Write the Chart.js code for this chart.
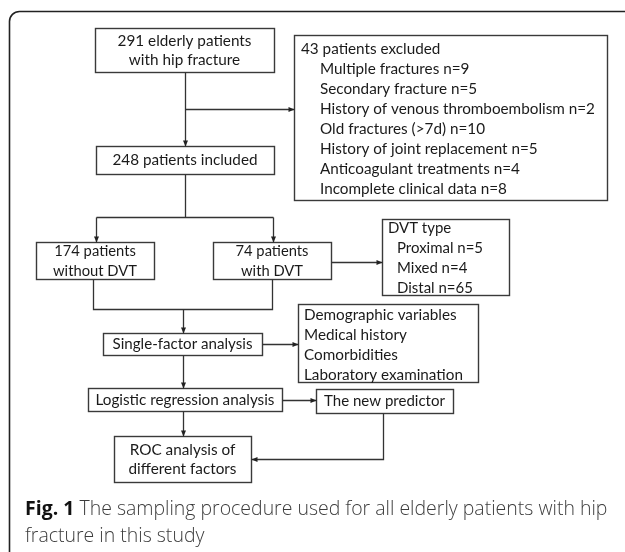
<!DOCTYPE html>
<html>
<head>
<meta charset="utf-8">
<script src="https://cdn.jsdelivr.net/npm/chart.js@4.4.0/dist/chart.umd.min.js"></script>
<style>
  html, body { margin: 0; padding: 0; background: #fff; }
  #wrap { width: 625px; height: 552px; }
</style>
</head>
<body>
<div id="wrap"><canvas id="flow" width="625" height="552"></canvas></div>
<script>
// ---- text / counts of the flow diagram ----
const sourceLines = ['291 elderly patients', 'with hip fracture'];
const includedLines = ['248 patients included'];
const excludedTitle = '43 patients excluded';
const exclusionReasons = ['Multiple fractures', 'Secondary fracture', 'History of venous thromboembolism',
    'Old fractures (>7d)', 'History of joint replacement', 'Anticoagulant treatments', 'Incomplete clinical data'];
const exclusionCounts = [9, 5, 2, 10, 5, 4, 8];
const groupCounts = [174, 74];
const groupLabels = ['without DVT', 'with DVT'];
const dvtTitle = 'DVT type';
const dvtTypes = ['Proximal', 'Mixed', 'Distal'];
const dvtCounts = [5, 4, 65];
const factorVars = ['Demographic variables', 'Medical history', 'Comorbidities', 'Laboratory examination'];
const stepLabels = ['Single-factor analysis', 'Logistic regression analysis', 'The new predictor'];
const rocLines = ['ROC analysis of', 'different factors'];
const captionBold = 'Fig. 1';
const captionLines = [' The sampling procedure used for all elderly patients with hip', 'fracture in this study'];

// ---- layout (scale units) ----
const TEXT = '#1a1a1a';
const boxFont = 'Lato, "Open Sans", sans-serif';

// fit: [line index, width that line takes in the picture]
const boxes = {
    source:   { x0: 95,  y0: 28,  x1: 274, y1: 72,  lines: sourceLines, align: 'center', fit: [0, 134] },
    included: { x0: 96,  y0: 146, x1: 274, y1: 174, lines: includedLines, align: 'center', fit: [0, 145] },
    excluded: { x0: 294, y0: 35,  x1: 607, y1: 200, align: 'left', first: 14, step: 20, tx: 301, indent: 19, fit: [3, 275],
        lines: [excludedTitle].concat(exclusionReasons.map((r, i) => r + ' n=' + exclusionCounts[i])) },
    noDvt:    { x0: 36,  y0: 242, x1: 154, y1: 279, align: 'center', fit: [1, 84],
        lines: [groupCounts[0] + ' patients', groupLabels[0]] },
    dvt:      { x0: 213, y0: 242, x1: 331, y1: 279, align: 'center', fit: [0, 73],
        lines: [groupCounts[1] + ' patients', groupLabels[1]] },
    dvtType:  { x0: 382, y0: 219, x1: 509, y1: 295, align: 'left', first: 9, step: 20, tx: 388, indent: 9, fit: [1, 86],
        lines: [dvtTitle].concat(dvtTypes.map((t, i) => t + ' n=' + dvtCounts[i])) },
    single:   { x0: 103, y0: 333, x1: 262, y1: 355, lines: [stepLabels[0]], align: 'center', fit: [0, 140] },
    factors:  { x0: 298, y0: 304, x1: 478, y1: 382, align: 'left', first: 11, step: 20, tx: 304, indent: 0, fit: [3, 159],
        lines: factorVars },
    logistic: { x0: 88,  y0: 388, x1: 282, y1: 411, lines: [stepLabels[1]], align: 'center', fit: [0, 179] },
    predictor:{ x0: 316, y0: 389, x1: 453, y1: 413, lines: [stepLabels[2]], align: 'center', fit: [0, 121] },
    roc:      { x0: 114, y0: 436, x1: 251, y1: 482, lines: rocLines, align: 'center', fit: [1, 108] }
};

// connectors: polylines in scale units, arrow on the last segment
const links = [
    { pts: [[185, 72], [185, 146]], arrow: true },
    { pts: [[185, 109], [294, 109]], arrow: true },
    { pts: [[185, 174], [185, 217]], arrow: false },
    { pts: [[96, 217], [273, 217]], arrow: false },
    { pts: [[96, 217], [96, 242]], arrow: true },
    { pts: [[273, 217], [273, 242]], arrow: true },
    { pts: [[331, 262], [382, 262]], arrow: true },
    { pts: [[93, 279], [93, 309], [272, 309], [272, 279]], arrow: false },
    { pts: [[183, 309], [183, 333]], arrow: true },
    { pts: [[262, 344], [298, 344]], arrow: true },
    { pts: [[183, 355], [183, 388]], arrow: true },
    { pts: [[282, 400], [316, 400]], arrow: true },
    { pts: [[183, 411], [183, 436]], arrow: true },
    { pts: [[383, 413], [383, 459], [251, 459]], arrow: true }
];

const flowPlugin = {
    id: 'flow',
    afterDraw(chart) {
        const ctx = chart.ctx;
        const sx = v => chart.scales.x.getPixelForValue(v);
        const sy = v => chart.scales.y.getPixelForValue(v);
        ctx.save();

        // outer frame, open to the right and bottom
        ctx.strokeStyle = '#222';
        ctx.lineWidth = 1.6;
        ctx.beginPath();
        ctx.moveTo(sx(9.5), sy(552));
        ctx.lineTo(sx(9.5), sy(22));
        ctx.arcTo(sx(9.5), sy(11.5), sx(20), sy(11.5), 10);
        ctx.lineTo(sx(625), sy(11.5));
        ctx.stroke();

        ctx.textBaseline = 'middle';
        Object.values(boxes).forEach(b => {
            ctx.strokeStyle = '#3a3a3a';
            ctx.lineWidth = 1.4;
            ctx.strokeRect(sx(b.x0) + 0.5, sy(b.y0) + 0.5, sx(b.x1) - sx(b.x0), sy(b.y1) - sy(b.y0));

            // size the text so the reference line takes its width in the picture
            ctx.font = '16px ' + boxFont;
            const w = ctx.measureText(b.lines[b.fit[0]]).width;
            const fs = Math.max(13, Math.min(19, 16 * b.fit[1] / w));
            ctx.font = fs.toFixed(2) + 'px ' + boxFont;
            ctx.fillStyle = TEXT;
            if (b.align === 'center') {
                ctx.textAlign = 'center';
                const cx = (b.x0 + b.x1) / 2;
                const cy = (b.y0 + b.y1) / 2 + 0.5;
                const n = b.lines.length;
                b.lines.forEach((t, i) => {
                    ctx.fillText(t, sx(cx), sy(cy + (i - (n - 1) / 2) * 19.5));
                });
            } else {
                ctx.textAlign = 'left';
                b.lines.forEach((t, i) => {
                    const x = b.tx + (i > 0 ? b.indent : 0);
                    ctx.fillText(t, sx(x), sy(b.y0 + b.first + i * b.step));
                });
            }
        });

        // connectors
        ctx.strokeStyle = '#333';
        ctx.fillStyle = '#222';
        ctx.lineWidth = 1.3;
        links.forEach(l => {
            ctx.beginPath();
            l.pts.forEach((p, i) => {
                const X = Math.round(sx(p[0])) + 0.5, Y = Math.round(sy(p[1])) + 0.5;
                if (i === 0) ctx.moveTo(X, Y); else ctx.lineTo(X, Y);
            });
            ctx.stroke();
            if (l.arrow) {
                const a = l.pts[l.pts.length - 2], b = l.pts[l.pts.length - 1];
                const X = Math.round(sx(b[0])) + 0.5, Y = Math.round(sy(b[1])) + 0.5;
                const ang = Math.atan2(sy(b[1]) - sy(a[1]), sx(b[0]) - sx(a[0]));
                ctx.beginPath();
                ctx.moveTo(X, Y);
                ctx.lineTo(X - 6 * Math.cos(ang) + 2.5 * Math.sin(ang), Y - 6 * Math.sin(ang) - 2.5 * Math.cos(ang));
                ctx.lineTo(X - 6 * Math.cos(ang) - 2.5 * Math.sin(ang), Y - 6 * Math.sin(ang) + 2.5 * Math.cos(ang));
                ctx.closePath();
                ctx.fill();
            }
        });

        // caption
        const capFont = '"Open Sans", "Noto Sans", sans-serif';
        ctx.textAlign = 'left';
        ctx.textBaseline = 'alphabetic';
        ctx.font = 'bold 20px ' + capFont;
        const wb = ctx.measureText(captionBold).width;
        ctx.font = '300 20px ' + capFont;
        const wr = ctx.measureText(captionLines[0]).width;
        const cs = 20 * 583 / (wb + wr);
        ctx.font = 'bold ' + cs + 'px ' + capFont;
        ctx.fillStyle = '#111';
        ctx.fillText(captionBold, sx(25), sy(515));
        const wb2 = ctx.measureText(captionBold).width;
        ctx.font = '300 ' + cs + 'px ' + capFont;
        ctx.fillStyle = '#3c3c3c';
        ctx.fillText(captionLines[0], sx(25) + wb2, sy(515));
        ctx.fillText(captionLines[1], sx(25), sy(542));
        ctx.restore();
    }
};

new Chart(document.getElementById('flow'), {
    type: 'scatter',
    data: { datasets: [{ data: [], pointRadius: 0 }] },
    options: {
        responsive: false,
        animation: false,
        layout: { padding: 0 },
        plugins: { legend: { display: false }, tooltip: { enabled: false } },
        scales: {
            x: { type: 'linear', min: 0, max: 625, display: false },
            y: { type: 'linear', min: 0, max: 552, reverse: true, display: false }
        }
    },
    plugins: [flowPlugin]
});
</script>
</body>
</html>
